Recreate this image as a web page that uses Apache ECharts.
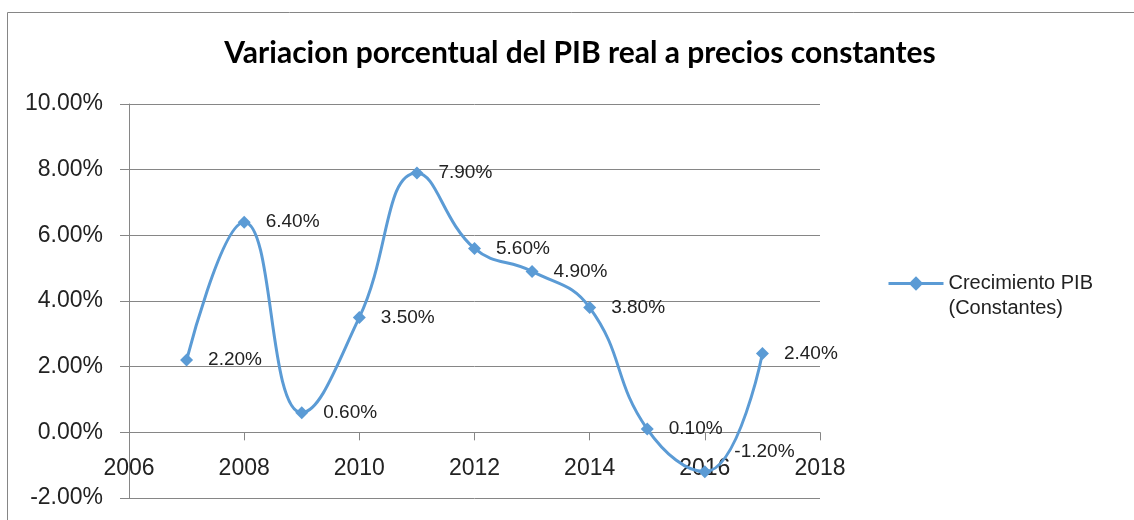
<!DOCTYPE html>
<html>
<head>
<meta charset="utf-8">
<script src="https://cdn.jsdelivr.net/npm/echarts@6/dist/echarts.min.js"></script>
<style>
  html, body { margin: 0; padding: 0; background: #fff; }
  #chart { width: 1134px; height: 520px; }
</style>
</head>
<body>
<div id="chart"></div>
<script>
const years = [2007, 2008, 2009, 2010, 2011, 2012, 2013, 2014, 2015, 2016, 2017]
const growth = [2.2, 6.4, 0.6, 3.5, 7.9, 5.6, 4.9, 3.8, 0.1, -1.2, 2.4]
const seriesName = 'Crecimiento PIB\n(Constantes)'

const font = 'Liberation Sans'
const blue = '#5B9BD5'
const gray = '#868686'

const points = years.map((y, i) => {
  const p = { value: [y, growth[i]] }
  // excel moved this one label up so it clears the curve
  if (growth[i] < 0) p.label = { offset: [8, -20] }
  return p
})

const gridTop = 104
const gridBottom = 22
const plotHeight = 520 - gridTop - gridBottom
const yMin = -2
const yMax = 10
// x axis sits on the 0% line, like excel
const xAxisShift = plotHeight * (0 - yMin) / (yMax - yMin)

const chart = echarts.init(document.getElementById('chart'))
chart.setOption({
  animation: false,
  title: {
    text: 'Variacion porcentual del PIB real a precios constantes',
    left: 575,
    top: 33,
    textAlign: 'center',
    textStyle: { fontFamily: 'Lato', fontWeight: 'bold', fontSize: 30, color: '#000' }
  },
  legend: {
    left: 887,
    top: 246,
    padding: 0,
    itemWidth: 55,
    itemHeight: 18,
    itemGap: 6,
    data: [seriesName],
    formatter: name => '\n' + name,
    lineStyle: { width: 3 },
    textStyle: { fontFamily: font, fontSize: 20, color: '#222', lineHeight: 25 }
  },
  grid: { left: 129, right: 314, top: gridTop, bottom: gridBottom, outerBoundsMode: 'none', containLabel: false },
  xAxis: {
    type: 'value',
    min: 2006,
    max: 2018,
    interval: 2,
    offset: -xAxisShift,
    axisLine: { onZero: false, lineStyle: { color: gray } },
    axisTick: { show: true, length: 8, inside: false, lineStyle: { color: gray } },
    axisLabel: { fontFamily: font, fontSize: 23, color: '#222', margin: 25, formatter: v => String(v) },
    splitLine: { show: false }
  },
  yAxis: {
    type: 'value',
    min: yMin,
    max: yMax,
    interval: 2,
    axisLine: { show: true, lineStyle: { color: gray } },
    axisTick: { show: true, length: 9, lineStyle: { color: gray } },
    axisLabel: {
      fontFamily: font, fontSize: 23, color: '#222', margin: 26,
      formatter: v => v.toFixed(2) + '%'
    },
    splitLine: { lineStyle: { color: gray } }
  },
  graphic: [{
    type: 'rect',
    shape: { x: 7.5, y: 12.5, width: 1140, height: 520 },
    style: { fill: 'none', stroke: gray, lineWidth: 1 },
    silent: true
  }],
  series: [{
    name: seriesName,
    type: 'line',
    data: points,
    smooth: 0.45,
    symbol: 'diamond',
    symbolSize: 13,
    lineStyle: { color: blue, width: 3 },
    itemStyle: { color: blue },
    label: {
      show: true,
      position: 'right',
      distance: 15,
      fontFamily: font,
      fontSize: 19,
      color: '#222',
      formatter: p => p.value[1].toFixed(2) + '%'
    }
  }]
})
</script>
</body>
</html>
